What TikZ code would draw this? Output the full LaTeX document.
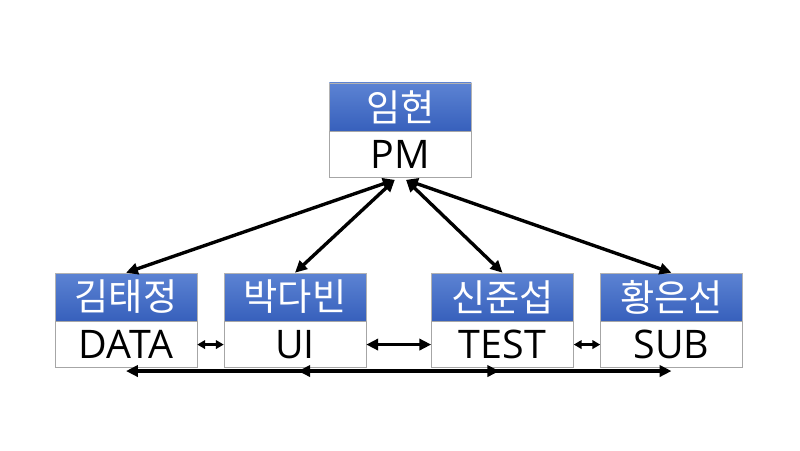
\documentclass[tikz,border=0pt]{standalone}
\usepackage{fontspec}
\setmainfont{Open Sans}
\newfontfamily\krfont{Noto Sans CJK KR}
\usetikzlibrary{arrows, arrows.meta}
\usetikzlibrary{calc}

\definecolor{hdtop}{RGB}{92,131,211}
\definecolor{hdbot}{RGB}{55,96,188}

\tikzset{
  head/.style={rectangle, draw=gray!60, top color=hdtop, bottom color=hdbot,
    minimum width=3.55cm, minimum height=1.2cm, inner sep=0pt, text=white,
    font=\krfont\fontsize{26.5}{30}\selectfont},
  role/.style={rectangle, draw=gray!70, fill=white, minimum width=3.55cm, minimum height=1.15cm,
    inner sep=0pt, text=black, font=\fontsize{28}{32}\selectfont},
  link/.style={line width=2.4pt, {Triangle[length=8.5pt,width=8pt]}-{Triangle[length=8.5pt,width=8pt]}},
  shortlink/.style={line width=2pt, {Triangle[length=5.5pt,width=6pt]}-{Triangle[length=5.5pt,width=6pt]}}
}

\begin{document}
\begin{tikzpicture}
    \useasboundingbox (0,0) rectangle (20,11.25);

    % PM box on top
    \node[head] (pmh) at (10.01,8.575) {임현};
    \node[role, anchor=north] (pm) at (pmh.south) {PM};

    % team boxes
    \foreach \i/\x/\kr/\en in {1/3.15/김태정/DATA, 2/7.375/박다빈/UI, 3/12.5625/신준섭/TEST, 4/16.7875/황은선/SUB} {
      \node[head] (head\i) at (\x,3.825) {\kr};
      \node[role, anchor=north] (role\i) at (head\i.south) {\en};
    }

    \coordinate (pmL) at ($(pm.south)+(-0.14,-0.05)$);
    \coordinate (pmR) at ($(pm.south)+(0.14,-0.05)$);
    \draw[link] (pmL) -- (head1.north);
    \draw[link] (pmL) -- (head2.north);
    \draw[link] (pmR) -- (head3.north);
    \draw[link] (pmR) -- (head4.north);

    \draw[shortlink] (role1) -- (role2);
    \draw[link] (role2) -- (role3);
    \draw[shortlink] (role3) -- (role4);

    \coordinate (d1) at ($(role1.south)+(0,-0.08)$);
    \coordinate (d2) at ($(role2.south)+(0.08,-0.08)$);
    \coordinate (d3) at ($(role3.south)+(-0.08,-0.08)$);
    \coordinate (d4) at ($(role4.south)+(0,-0.08)$);
    \draw[link] (d1) -- (d3);
    \draw[link] (d2) -- (d4);
\end{tikzpicture}
\end{document}
